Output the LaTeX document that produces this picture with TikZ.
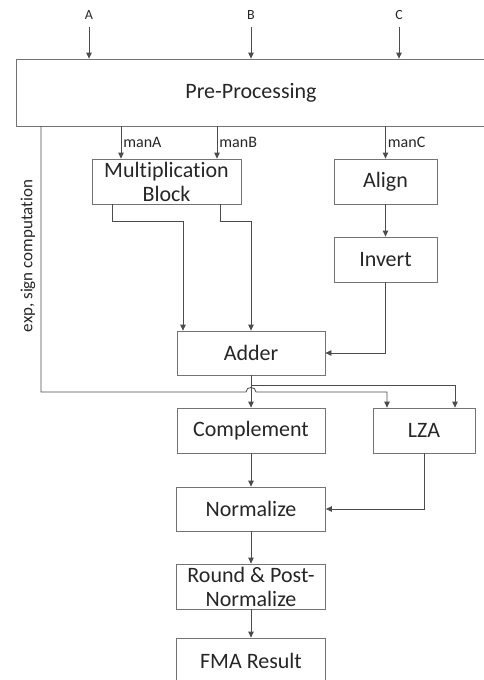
\documentclass[tikz,border=0pt]{standalone}
\usepackage{fontspec}
\setmainfont[Ligatures=NoCommon]{Carlito}
\usetikzlibrary{arrows.meta}
\begin{document}
\begin{tikzpicture}[x=1pt,y=-1pt,
  blk/.style={draw=black!55, line width=0.8pt, minimum height=45pt, inner sep=0pt,
    align=center, text=black!85, font=\fontsize{22}{24}\selectfont},
  arr/.style={draw=black!70, line width=0.8pt, -{Triangle[length=6pt,width=5.5pt]}},
  sig/.style={font=\fontsize{16}{18}\selectfont, text=black!85, inner sep=2pt},
  inp/.style={font=\fontsize{14}{16}\selectfont, text=black!85, inner sep=2pt}]
        \useasboundingbox (0,0) rectangle (483,680);

        % blocks
        \node[blk, minimum width=470pt, minimum height=67pt] (pre) at (251,92.5) {Pre-Processing};
        \node[blk, minimum width=149pt] (mult) at (166.5,181.5) {Multiplication\\Block};
        \node[blk, minimum width=103pt] (align) at (385.5,181.5) {Align};
        \node[blk, minimum width=103pt] (invert) at (385.5,259.5) {Invert};
        \node[blk, minimum width=148pt, minimum height=44pt] (adder) at (251,353) {Adder};
        \node[blk, minimum width=148pt] (compl) at (251,430.5) {Complement};
        \node[blk, minimum width=102pt] (lza) at (424,430.5) {LZA};
        \node[blk, minimum width=149pt, minimum height=44pt] (norm) at (251,509) {Normalize};
        \node[blk, minimum width=149pt] (round) at (251,586.5) {Round \& Post-\\Normalize};
        \node[blk, minimum width=149pt, minimum height=46pt] (fma) at (251,661) {FMA Result};

        % inputs
        \node[inp] (inA) at (89,15) {A};
        \node[inp] (inB) at (251,15) {B};
        \node[inp] (inC) at (399,15) {C};

        \draw[arr] ([yshift=-5pt]inA.south) -- (inA.south |- pre.north);
        \draw[arr] ([yshift=-5pt]inB.south) -- (inB.south |- pre.north);
        \draw[arr] ([yshift=-5pt]inC.south) -- (inC.south |- pre.north);

        % mantissas
        \coordinate (mA) at (121,126);
        \coordinate (mB) at (217,126);
        \draw[arr] (mA) -- node[sig, right, pos=.5] {manA} (mA |- mult.north);
        \draw[arr] (mB) -- node[sig, right, pos=.5] {manB} (mB |- mult.north);
        \draw[arr] (align.north |- pre.south) -- node[sig, right, pos=.5] {manC} (align.north);

        \draw[arr] ([xshift=-54.5pt]mult.south) -- ++(0,17) -| ([xshift=-68pt]adder.north);
        \draw[arr] ([xshift=53.5pt]mult.south) -- ++(0,17) -| (adder.north);
        \draw[arr] (align) -- (invert);
        \draw[arr] (invert.south) |- (adder.east);

        % exponent and sign path
        \coordinate (ex) at (41,126);
        \coordinate (hop) at (251,392);
        \draw[arr] (ex) |- ([xshift=-5pt]hop) .. controls +(0,-6) and +(0,-6) .. ([xshift=5pt]hop)
            -| ([xshift=-37pt]lza.north);
        \node[rotate=90, font=\fontsize{17}{20}\selectfont, text=black!85] (explbl) at (28,256) {exp, sign computation};

        \draw[arr] (adder) -- (compl);
        \draw[arr] ([yshift=-10pt]adder.south) -| ([xshift=31pt]lza.north);
        \draw[arr] (compl) -- (norm);
        \draw[arr] (lza.south) |- (norm.east);
        \draw[arr] (norm) -- (round);
        \draw[arr] (round) -- (fma);
\end{tikzpicture}
\end{document}
